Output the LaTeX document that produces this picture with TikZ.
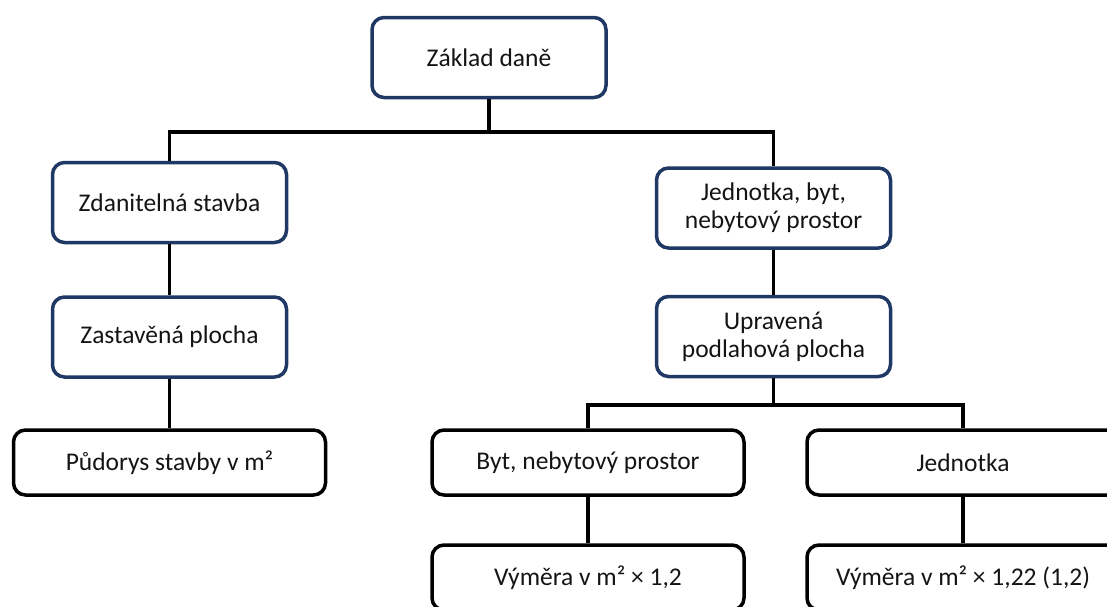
\documentclass[tikz,border=0pt]{standalone}
\usepackage{fontspec}
\setmainfont{Carlito}
\usetikzlibrary{positioning}
\definecolor{navy}{HTML}{1F3864}
\definecolor{ink}{HTML}{141414}

\begin{document}
\begin{tikzpicture}[x=1pt,y=-1pt,
    box/.style={draw,line width=3.5pt,rounded corners=12pt,minimum width=234pt,minimum height=80pt,align=center,text=ink,font=\fontsize{25.5}{28}\selectfont},
    bluebox/.style={box,draw=navy},
    blackbox/.style={box,draw=black,minimum width=312pt,minimum height=65pt},
    link/.style={line width=3.5pt}]
  \clip (0,0) rectangle (1107,606);
  % upper part
  \node[bluebox] (zaklad) at (489,57.5) {Základ daně};
  \node[bluebox] (zdan) at (169.5,202.5) {Zdanitelná stavba};
  \node[bluebox] (jedn) at (773.5,208) {Jednotka, byt,\\nebytový prostor};
  \node[bluebox] (zast) at (169.5,337) {Zastavěná plocha};
  \node[bluebox] (upr) at (773.5,336.5) {Upravená\\podlahová plocha};
  % lower part
  \node[blackbox] (pudorys) at (169.5,462.5) {Půdorys stavby v m²};
  \node[blackbox] (byt) at (588,462.5) {Byt, nebytový prostor};
  \node[blackbox] (jednotka) at (963,462.5) {Jednotka};
  \node[blackbox] (vymbyt) at (588,577.5) {Výměra v m² × 1,2};
  \node[blackbox] (vymjed) at (963,577.5) {Výměra v m² × 1,22 (1,2)};
  % connectors
  \draw[link] (zaklad.south) -- ++(0,32.5) -| (zdan.north);
  \draw[link] (zaklad.south) -- ++(0,32.5) -| (jedn.north);
  \draw[link] (zdan) -- (zast);
  \draw[link] (zast) -- (pudorys);
  \draw[link] (jedn) -- (upr);
  \draw[link] (upr.south) -- ++(0,26.5) -| (byt.north);
  \draw[link] (upr.south) -- ++(0,26.5) -| (jednotka.north);
  \draw[link] (byt) -- (vymbyt);
  \draw[link] (jednotka) -- (vymjed);
\end{tikzpicture}
\end{document}
